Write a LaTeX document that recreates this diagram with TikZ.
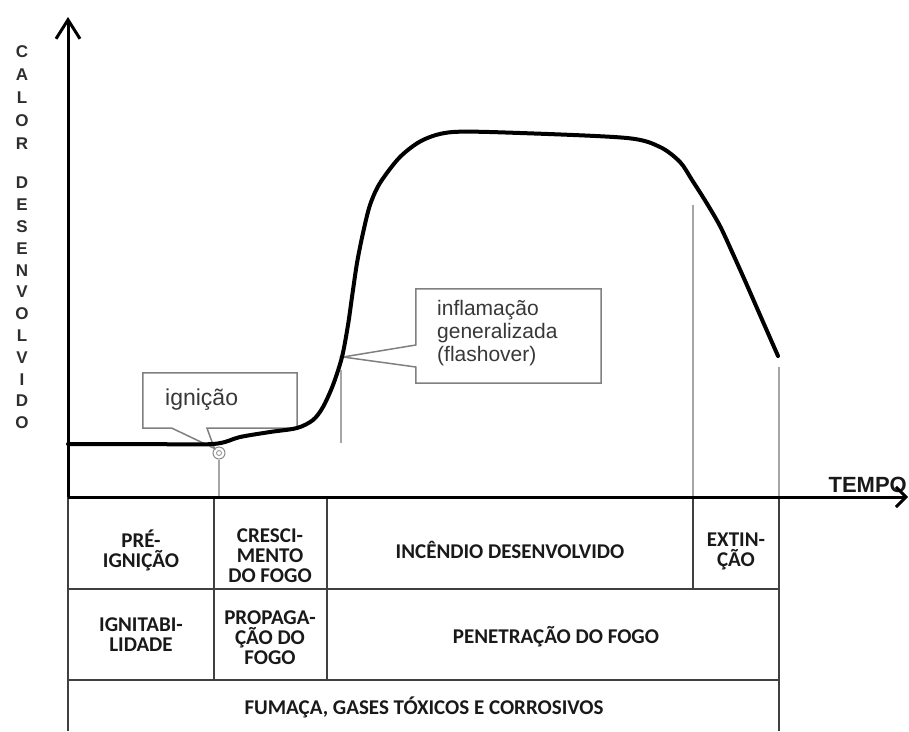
\documentclass[tikz,border=0pt]{standalone}
\usepackage{fontspec}
\setmainfont{Liberation Sans}
\newfontfamily\tablefont{Carlito}
\usetikzlibrary{arrows.meta}

\begin{document}
\begin{tikzpicture}[x=1pt,y=-1pt,
  axis/.style={line width=3pt, black},
  curve/.style={line width=4pt, black, line join=round, line cap=round},
  guide/.style={draw=black!35, line width=1.2pt},
  gridline/.style={draw=black!75, line width=1.8pt},
  cell/.style={font=\tablefont\bfseries\fontsize{21}{20}\selectfont, text=black!90, align=center, inner sep=0pt},
  callout/.style={draw=black!50, line width=1.5pt, fill=white, line join=miter},
  note/.style={font=\fontsize{21}{23}\selectfont, text=black!78, align=left, inner sep=0pt},
  vlabel/.style={font=\bfseries\fontsize{17}{17}\selectfont, text=black!82, inner sep=0pt},
  axislabel/.style={font=\bfseries\fontsize{22}{22}\selectfont, text=black!90, inner sep=0pt}
]
\useasboundingbox (0,0) rectangle (909,731);

% axes
\coordinate (O) at (68,497);
\coordinate (ytip) at (68,17);
\coordinate (xtip) at (908,497);

% vertical axis label
\foreach \ch [count=\i] in {C,A,L,O,R}
  \node[vlabel] (calor\i) at (22,{52+(\i-1)*23}) {\ch};
\foreach \ch [count=\i] in {D,E,S,E,N,V,O,L,V,I,D,O}
  \node[vlabel] (desenv\i) at (22,{183+(\i-1)*21.8}) {\ch};

\node[axislabel, anchor=base east] (tempo) at (907,492) {TEMPO};

% ignition marker
\node[circle, draw=black!45, line width=1pt, minimum size=12pt, inner sep=0pt] (ign) at (219,453) {};
\node[circle, draw=black!45, line width=0.8pt, minimum size=5pt, inner sep=0pt] (igncore) at (ign) {};

% phase guide lines
\coordinate (fltip) at (343,357);
\coordinate (fltop) at (341,370);
\coordinate (flbot) at (341,443);
\coordinate (exttop) at (693,205);
\coordinate (endtop) at (779,367);
\draw[guide] (ign.south) -- (ign.south |- O);
\draw[guide] (fltop) -- (flbot);
\draw[guide] (exttop) -- (exttop |- O);
\draw[guide] (endtop) -- (endtop |- O);

% callout: ignition
\node[minimum width=154pt, minimum height=55pt, inner sep=0pt] (ignbox) at (220,400.5) {};
\draw[callout] (ignbox.south west) -- (ignbox.north west) -- (ignbox.north east)
  -- (ignbox.south east) -- ([xshift=-13pt]ignbox.south) -- (ign.north west)
  -- ([xshift=-48pt]ignbox.south) -- cycle;
\node[note, font=\fontsize{23}{23}\selectfont, anchor=base west] (igntext) at (165,405) {ignição};

% callout: flashover
\node[minimum width=185pt, minimum height=94pt, inner sep=0pt] (flbox) at (508.5,336) {};
\draw[callout] (flbox.north west) -- (flbox.north east) -- (flbox.south east)
  -- (flbox.south west) -- ([yshift=-31pt]flbox.west) -- (fltip)
  -- ([yshift=-9pt]flbox.west) -- cycle;
\node[note, anchor=north west] (fltext) at (437,300) {inflamação\\generalizada\\(flashover)};

% heat release curve
\draw[curve] plot[smooth, tension=0.5] coordinates {
  (68,444) (140,444) (213,444) (240,437) (270,432) (297,428) (313,420) (323,407)
  (333,385) (342,357) (348,325) (352,297) (357,263) (363,233) (370,205)
  (380,183) (400,157) (423,140) (453,132) (520,133) (627,138) (660,147)
  (680,162) (692,180) (706,202) (720,226) (733,254) (746,283) (760,315) (778,356)};

% table grid
\draw[gridline] (68,497) -- (68,731);
\draw[gridline] (779,497) -- (779,731);
\draw[gridline] (68,589) -- (779,589);
\draw[gridline] (68,680) -- (779,680);
\draw[gridline] (214,497) -- (214,680);
\draw[gridline] (327,497) -- (327,680);
\draw[gridline] (693,497) -- (693,589);

% axes on top
\draw[axis, -{Straight Barb[length=19pt,width=24pt]}] (O) -- (ytip);
\draw[axis, -{Straight Barb[length=10pt,width=20pt]}] (O) -- (xtip);

% table text
\node[cell] (preign) at (141,550) {PRÉ-\\IGNIÇÃO};
\node[cell] (cresc) at (270,556) {CRESCI-\\MENTO\\DO FOGO};
\node[cell] (incend) at (510,550) {INCÊNDIO DESENVOLVIDO};
\node[cell] (extin) at (736,551) {EXTIN-\\ÇÃO};
\node[cell] (ignit) at (141,635) {IGNITABI-\\LIDADE};
\node[cell] (propag) at (270,638) {PROPAGA-\\ÇÃO DO\\FOGO};
\node[cell] (penet) at (556,637) {PENETRAÇÃO DO FOGO};
\node[cell] (fumaca) at (424,707) {FUMAÇA, GASES TÓXICOS E CORROSIVOS};
\end{tikzpicture}
\end{document}
